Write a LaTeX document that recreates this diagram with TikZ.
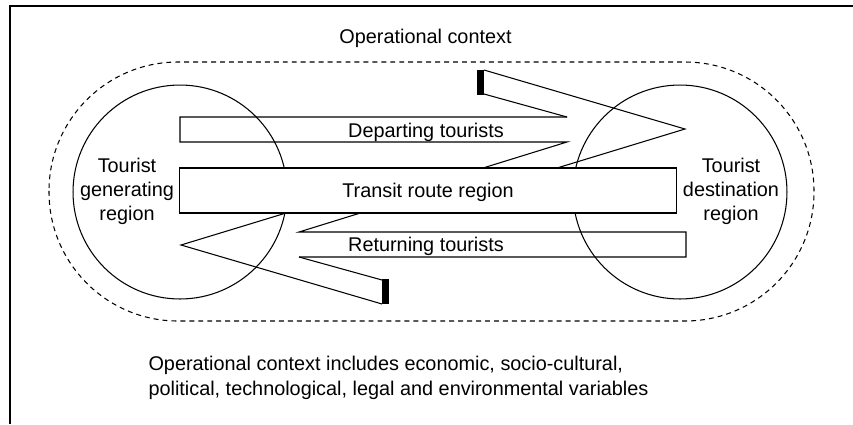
\documentclass[tikz,border=0pt]{standalone}
\usepackage{fontspec}
\setmainfont{Liberation Sans}
\begin{document}
\begin{tikzpicture}[x=0.02cm,y=-0.02cm,line width=0.6pt,
  every node/.style={font=\fontsize{11.3}{13.6}\selectfont,inner sep=0pt},
  region/.style={circle,draw,minimum size=4.28cm},
  routebox/.style={draw,fill=white,minimum width=9.96cm,minimum height=0.9cm,text height=8pt,text depth=0pt}]
\useasboundingbox (0,0) rectangle (853,424);
\draw[line width=0.8pt] (10,424) -- (10,6) -- (853,6);
\node[anchor=base] (ctx) at (425.5,43) {Operational context};
\draw[dash pattern=on 2.8pt off 2.3pt,rounded corners=2.58cm] (49,62) rectangle (814,321);
\node[region] (gen) at (180,192) {};
\node[region] (dest) at (680,192) {};
\foreach \r in {0,180} {
  \begin{scope}[rotate around={\r:(433,187)}]
    \draw (567,117) -- (180,117) -- (180,142) -- (567,142) -- (483,168);
    \draw (567,117) -- (484,94) (484,70) -- (685,129) -- (557,168);
    \fill (477,70) rectangle (484,95);
  \end{scope}
}
\node[anchor=base] (dep) at (426,137) {Departing tourists};
\node[anchor=base] (ret) at (426,251) {Returning tourists};
\node[routebox] (transit) at (428,190.5) {Transit route region};
\node[align=center] (genlbl) at (127,191) {Tourist\\generating\\region};
\node[align=center] (destlbl) at (731,191) {Tourist\\destination\\region};
\node[anchor=base west,align=left,font=\fontsize{11.3}{14.2}\selectfont] (note) at (148,395)
  {Operational context includes economic, socio-cultural,\\political, technological, legal and environmental variables};
\end{tikzpicture}
\end{document}
